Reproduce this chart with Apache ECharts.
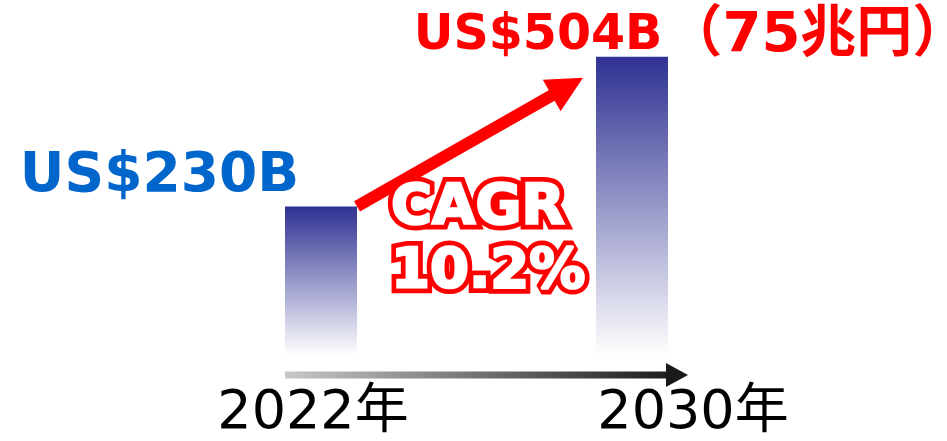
<!DOCTYPE html>
<html><head><meta charset="utf-8">
<script src="https://cdn.jsdelivr.net/npm/echarts@6/dist/echarts.min.js"></script>
<style>html,body{margin:0;padding:0;background:#fff}#c{width:947px;height:441px}</style>
</head><body><div id="c"></div>
<script>
// ---- data ----
const categories = ['2022年', '2030年'];
const values = [230, 504];
const valueLabels = ['US$230B', 'US$504B（75兆円）'];
const cagrLines = ['CAGR', '10.2%'];

// ---- styles ----
const FONT = '"DejaVu Sans", "Noto Sans CJK JP", sans-serif';
const Y_MIN = -42, Y_MAX = 540;
const BAR_W = 72;
const axisLabelPads = [[0, 16, 0, 0], [0, 0, 0, 122]];

function labelText(i) {
  const txt = valueLabels[i];
  if (i === 0) {
    return { text: txt, fill: '#0066CC', fontSize: 55, fontWeight: 'bold', fontFamily: FONT };
  }
  const k = txt.indexOf('（');
  return {
    text: '{a|' + txt.slice(0, k) + '}{b|' + txt.slice(k) + '}',
    rich: {
      a: { fill: '#FF0000', fontSize: 49, fontWeight: 'bold', fontFamily: FONT },
      b: { fill: '#FF0000', fontSize: 56, fontWeight: 'bold', fontFamily: FONT, padding: [0, 0, 0, 4] }
    }
  };
}
const labelOffsets = [[-161.5, 3], [59, 13]];

const chart = echarts.init(document.getElementById('c'), null, { renderer: 'canvas' });

chart.setOption({
  animation: false,
  grid: { left: 165.5, width: 622, top: 37, bottom: 85 },
  xAxis: {
    type: 'category',
    data: categories.map((c, i) => ({ value: c, textStyle: { padding: axisLabelPads[i] } })),
    axisLine: { show: false }, axisTick: { show: false }, splitLine: { show: false },
    axisLabel: { fontSize: 54, color: '#000', fontFamily: FONT, margin: 32, interval: 0 }
  },
  yAxis: { type: 'value', min: Y_MIN, max: Y_MAX, show: false },
  series: [{
    type: 'custom',
    encode: { x: 0, y: 1 },
    data: values.map((v, i) => [i, v]),
    renderItem: function (params, api) {
      const i = api.value(0);
      const top = api.coord([i, api.value(1)]);
      const base = api.coord([i, Y_MIN]);
      return {
        type: 'rect',
        shape: { x: top[0] - BAR_W / 2, y: top[1], width: BAR_W, height: base[1] - top[1] },
        style: {
          fill: new echarts.graphic.LinearGradient(0, 0, 0, 1, [
            { offset: 0, color: '#2E3192' }, { offset: 1, color: '#FFFFFF' }
          ])
        },
        textContent: { style: labelText(params.dataIndex) },
        textConfig: { position: 'top', distance: 5, offset: labelOffsets[params.dataIndex] }
      };
    }
  }]
});

// ---- annotations placed from the axis scales ----
const p1 = chart.convertToPixel({ xAxisIndex: 0, yAxisIndex: 0 }, [0, values[0]]);
const p2 = chart.convertToPixel({ xAxisIndex: 0, yAxisIndex: 0 }, [1, values[1]]);
const pb = chart.convertToPixel({ xAxisIndex: 0, yAxisIndex: 0 }, [0, Y_MIN]);

// red growth arrow
const s = [p1[0] + BAR_W / 2, p1[1]];
const t = [p2[0] - BAR_W / 2 - 13, p2[1] + 21];
const dx = t[0] - s[0], dy = t[1] - s[1], L = Math.hypot(dx, dy);
const ux = dx / L, uy = dy / L, nx = -uy, ny = ux;
const HL = 36, HW = 18;
const b = [t[0] - ux * HL, t[1] - uy * HL];

// axis arrow
const ay = pb[1] + 20;
const ax0 = p1[0] - BAR_W / 2;
const ax1 = p2[0] + BAR_W / 2 + 20;

const cagrFont = 'bold 56px "DejaVu Sans", sans-serif';
const cagrText = cagrLines.join('\n');

chart.setOption({
  graphic: [
    { type: 'line', shape: { x1: s[0], y1: s[1], x2: b[0] + ux * 2, y2: b[1] + uy * 2 },
      style: { stroke: '#FF0000', lineWidth: 12 }, z: 10 },
    { type: 'polygon', shape: { points: [t, [b[0] + nx * HW, b[1] + ny * HW], [b[0] - nx * HW, b[1] - ny * HW]] },
      style: { fill: '#FF0000' }, z: 10 },
    { type: 'rect', shape: { x: ax0, y: ay - 3.5, width: ax1 - 22 - ax0, height: 7 },
      style: { fill: new echarts.graphic.LinearGradient(0, 0, 1, 0, [
        { offset: 0, color: '#C8C8C8' }, { offset: 1, color: '#1E1E1E' }]) }, z: 10 },
    { type: 'polygon', shape: { points: [[ax1, ay], [ax1 - 22, ay - 12], [ax1 - 22, ay + 12]] },
      style: { fill: '#1A1A1A' }, z: 10 },
    // glow / outline (drawn underneath)
    { type: 'text', x: 391, y: 176, z: 20,
      style: {
        text: cagrText, fill: '#FF0000', font: cagrFont, lineHeight: 64,
        stroke: '#FF0000', lineWidth: 12, lineJoin: 'round',
        shadowColor: 'rgba(255,0,0,0.9)', shadowBlur: 8,
        textAlign: 'left', textVerticalAlign: 'top'
      } },
    // white fill on top (slightly emboldened)
    { type: 'text', x: 391, y: 176, z: 21,
      style: {
        text: cagrText, fill: '#FFFFFF', font: cagrFont, lineHeight: 64,
        stroke: '#FFFFFF', lineWidth: 2.5, lineJoin: 'round',
        textAlign: 'left', textVerticalAlign: 'top'
      } }
  ]
});
</script>
</body></html>
